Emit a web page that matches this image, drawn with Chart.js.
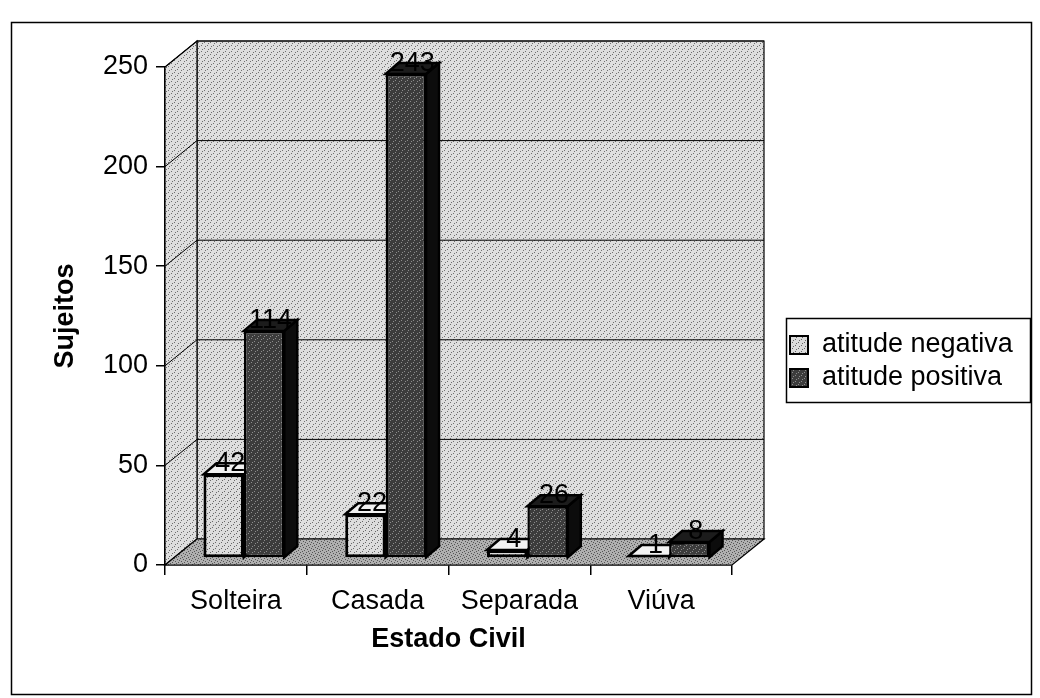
<!DOCTYPE html>
<html>
<head>
<meta charset="utf-8">
<script src="https://cdn.jsdelivr.net/npm/chart.js@4"></script>
<style>
  html, body { margin: 0; background: #fff; }
  #wrap { width: 1040px; height: 698px; }
</style>
</head>
<body>
<div id="wrap"><canvas id="chart" width="1040" height="698"></canvas></div>
<script>
// dados
const categorias = ["Solteira", "Casada", "Separada", "Viúva"];
const atitudeNegativa = [42, 22, 4, 1];
const atitudePositiva = [114, 243, 26, 8];
const ticksY = [0, 50, 100, 150, 200, 250];
const nomesSeries = ["atitude negativa", "atitude positiva"];

const FONTE = "'Liberation Sans', Arial, sans-serif";
const TAM = 27;
const PAREDE = { x: 32, y: -26 };   // profundidade das paredes
const DESLOC = { x: 8, y: -7 };     // barras um pouco para trás
const PROF = { x: 13, y: -11 };     // profundidade das barras

// textura pontilhada (tipo impressão)
function textura(base, ponto, passo) {
  const c = document.createElement("canvas");
  c.width = 6; c.height = 6;
  const g = c.getContext("2d");
  g.fillStyle = base;
  g.fillRect(0, 0, 6, 6);
  g.fillStyle = ponto;
  const pts = passo === 1
    ? [[0, 0], [3, 1], [1, 3], [4, 4], [5, 2], [2, 5]]
    : [[0, 0], [3, 3], [4, 1], [1, 4]];
  pts.forEach(p => g.fillRect(p[0], p[1], 1, 1));
  return g.createPattern(c, "repeat");
}

const ctx0 = document.getElementById("chart").getContext("2d");
const fundo = textura("#dedede", "#6f6f6f", 2);
const chao = textura("#b0b0b0", "#555", 1);
const claro = textura("#dcdcdc", "#666", 2);
const escuro = textura("#3c3c3c", "#8c8c8c", 2);

function poly(ctx, pts, fill) {
  ctx.beginPath();
  ctx.moveTo(pts[0][0], pts[0][1]);
  for (let i = 1; i < pts.length; i++) ctx.lineTo(pts[i][0], pts[i][1]);
  ctx.closePath();
  ctx.fillStyle = fill;
  ctx.fill();
  ctx.stroke();
}

const plugin3d = {
  id: "efeito3d",
  beforeDraw(chart) {
    const ctx = chart.ctx;
    ctx.save();
    ctx.fillStyle = "#fff";
    ctx.fillRect(0, 0, chart.width, chart.height);
    ctx.strokeStyle = "#000";
    ctx.lineWidth = 1.5;
    ctx.strokeRect(11.5, 22.5, 1020, 672);
    ctx.restore();
  },
  beforeDatasetsDraw(chart) {
    const ctx = chart.ctx;
    const a = chart.chartArea;
    const y = chart.scales.y;
    const dx = PAREDE.x, dy = PAREDE.y;
    ctx.save();
    ctx.strokeStyle = "#000";
    ctx.lineWidth = 1.2;
    // parede de fundo, parede lateral e chão
    poly(ctx, [[a.left + dx, a.top + dy], [a.right + dx, a.top + dy],
               [a.right + dx, a.bottom + dy], [a.left + dx, a.bottom + dy]], fundo);
    poly(ctx, [[a.left, a.top], [a.left + dx, a.top + dy],
               [a.left + dx, a.bottom + dy], [a.left, a.bottom]], fundo);
    poly(ctx, [[a.left, a.bottom], [a.left + dx, a.bottom + dy],
               [a.right + dx, a.bottom + dy], [a.right, a.bottom]], chao);
    // linhas de grade
    ctx.lineWidth = 1;
    ticksY.forEach(v => {
      if (v === 0) return;
      const py = y.getPixelForValue(v);
      ctx.beginPath();
      ctx.moveTo(a.left, py);
      ctx.lineTo(a.left + dx, py + dy);
      ctx.lineTo(a.right + dx, py + dy);
      ctx.stroke();
    });
    ctx.restore();

    // faces laterais e superiores das barras
    ctx.save();
    ctx.translate(DESLOC.x, DESLOC.y);
    ctx.strokeStyle = "#000";
    ctx.lineWidth = 2.5;
    chart.data.datasets.forEach((ds, i) => {
      chart.getDatasetMeta(i).data.forEach(bar => {
        const l = bar.x - bar.width / 2, r = bar.x + bar.width / 2;
        const t = bar.y, b = bar.base;
        poly(ctx, [[r, t], [r + PROF.x, t + PROF.y], [r + PROF.x, b + PROF.y], [r, b]],
             i === 0 ? "#bdbdbd" : "#0c0c0c");
        poly(ctx, [[l, t], [l + PROF.x, t + PROF.y], [r + PROF.x, t + PROF.y], [r, t]],
             i === 0 ? "#f2f2f2" : "#1c1c1c");
      });
    });
  },
  afterDatasetsDraw(chart) {
    const ctx = chart.ctx;
    ctx.font = TAM + "px " + FONTE;
    ctx.fillStyle = "#000";
    ctx.textAlign = "center";
    ctx.textBaseline = "alphabetic";
    chart.data.datasets.forEach((ds, i) => {
      chart.getDatasetMeta(i).data.forEach((bar, j) => {
        ctx.fillText(String(ds.data[j]), bar.x + PROF.x / 2, bar.y - 3);
      });
    });
    ctx.restore();
  },
  afterDraw(chart) {
    // legenda
    const ctx = chart.ctx;
    ctx.save();
    ctx.strokeStyle = "#000";
    ctx.lineWidth = 1.5;
    ctx.strokeRect(786.5, 318.5, 244, 84);
    ctx.font = TAM + "px " + FONTE;
    ctx.textBaseline = "middle";
    ctx.textAlign = "left";
    chart.data.datasets.forEach((ds, i) => {
      const cy = 345 + i * 33;
      ctx.fillStyle = ds.backgroundColor;
      ctx.fillRect(790, cy - 9, 18, 18);
      ctx.lineWidth = 2;
      ctx.strokeRect(790, cy - 9, 18, 18);
      ctx.fillStyle = "#000";
      ctx.fillText(ds.label, 822, cy);
    });
    ctx.restore();
  }
};

new Chart(ctx0, {
  type: "bar",
  data: {
    labels: categorias,
    datasets: [
      { label: nomesSeries[0], data: atitudeNegativa, backgroundColor: claro,
        borderColor: "#000", borderWidth: 3, borderSkipped: false },
      { label: nomesSeries[1], data: atitudePositiva, backgroundColor: escuro,
        borderColor: "#000", borderWidth: 2.5, borderSkipped: false }
    ]
  },
  options: {
    responsive: false,
    animation: false,
    devicePixelRatio: 1,
    categoryPercentage: 0.57,
    barPercentage: 1.0,
    layout: { padding: { top: 67, right: 308, left: 0, bottom: 0 } },
    plugins: {
      legend: { display: false },
      tooltip: { enabled: false }
    },
    scales: {
      y: {
        min: 0,
        max: 250,
        afterFit: s => { s.width = 165; },
        afterBuildTicks: s => { s.ticks = ticksY.map(v => ({ value: v })); },
        ticks: { color: "#000", font: { family: FONTE, size: TAM }, padding: 8 },
        grid: { drawOnChartArea: false, drawTicks: true, tickLength: 9, color: "#000", lineWidth: 1.5 },
        border: { color: "#000", width: 1.5 },
        title: { display: true, text: "Sujeitos", color: "#000",
                 font: { family: FONTE, size: TAM, weight: "bold" }, padding: { top: 49 } }
      },
      x: {
        afterFit: s => { s.height = 133; },
        ticks: { color: "#000", font: { family: FONTE, size: TAM }, padding: 10 },
        grid: { offset: true, drawOnChartArea: false, drawTicks: true, tickLength: 10, color: "#000", lineWidth: 1.5 },
        border: { color: "#000", width: 1.5 },
        title: { display: true, text: "Estado Civil", color: "#000",
                 font: { family: FONTE, size: TAM, weight: "bold" }, padding: { bottom: 42 } }
      }
    }
  },
  plugins: [plugin3d]
});
</script>
</body>
</html>
